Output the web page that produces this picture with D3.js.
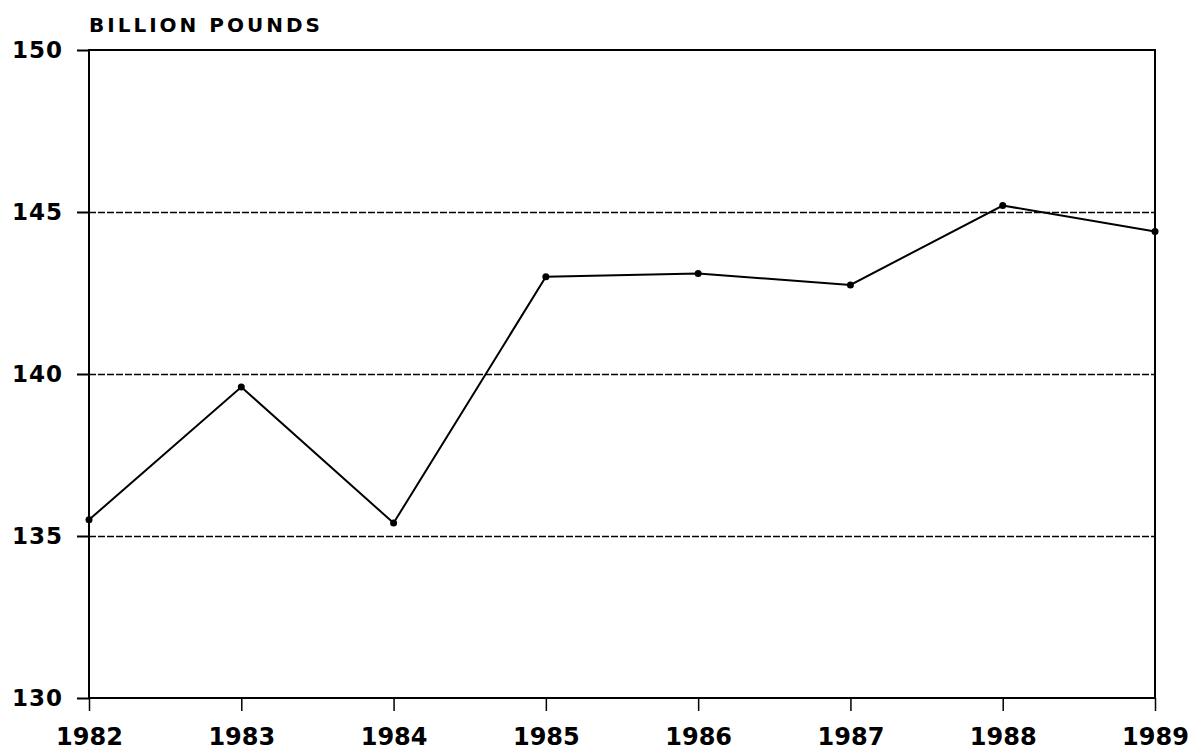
<!DOCTYPE html>
<html lang="en">
<head>
  <meta charset="UTF-8">
  <title>Billion Pounds 1982-1989</title>
  <script src="https://d3js.org/d3.v7.min.js"></script>
</head>
<body style="margin: 0; padding: 0; overflow: hidden; background: #fff;">
  <svg id="chart"></svg>

  <script>
    // data
    const years = [1982, 1983, 1984, 1985, 1986, 1987, 1988, 1989];
    const values = [135.5, 139.6, 135.4, 143.0, 143.1, 142.75, 145.2, 144.4];
    const yTicks = [130, 135, 140, 145, 150];
    const gridTicks = [135, 140, 145];
    const yTitle = "BILLION POUNDS";

    const width = 1193, height = 751;
    const plotL = 89, plotR = 1155, plotT = 50, plotB = 698;
    const font = "'DejaVu Sans', sans-serif";

    const svg = d3.select("#chart")
      .attr("width", width)
      .attr("height", height);

    const x = d3.scaleLinear().domain([1982, 1989]).range([plotL, plotR]);
    const y = d3.scaleLinear().domain([130, 150]).range([plotB, plotT]);

    // dashed gridlines
    svg.selectAll(".grid")
      .data(gridTicks)
      .enter()
      .append("line")
      .attr("class", "grid")
      .attr("x1", plotL)
      .attr("x2", plotR)
      .attr("y1", d => Math.round(y(d)) + 0.5)
      .attr("y2", d => Math.round(y(d)) + 0.5)
      .attr("stroke", "#000")
      .attr("stroke-width", 1.5)
      .attr("stroke-dasharray", "7,2");

    // frame
    svg.append("rect")
      .attr("x", plotL)
      .attr("y", plotT)
      .attr("width", plotR - plotL)
      .attr("height", plotB - plotT)
      .attr("fill", "none")
      .attr("stroke", "#000")
      .attr("stroke-width", 2);

    // left axis
    const yAxis = d3.axisLeft(y)
      .tickValues(yTicks)
      .tickSize(12)
      .tickPadding(14)
      .tickFormat(d3.format("d"));

    const gy = svg.append("g")
      .attr("transform", `translate(${plotL},0)`)
      .call(yAxis);
    gy.select(".domain").remove();
    gy.selectAll(".tick line").attr("stroke", "#000").attr("stroke-width", 2);
    gy.selectAll(".tick text")
      .attr("fill", "#000")
      .style("font-family", font)
      .style("font-weight", "bold")
      .style("font-size", "23px")
      .style("letter-spacing", "1px");

    // bottom axis
    const xAxis = d3.axisBottom(x)
      .tickValues(years)
      .tickSize(13)
      .tickPadding(17)
      .tickFormat(d3.format("d"));

    const gx = svg.append("g")
      .attr("transform", `translate(0,${plotB})`)
      .call(xAxis);
    gx.select(".domain").remove();
    gx.selectAll(".tick line").attr("stroke", "#000").attr("stroke-width", 1.5);
    gx.selectAll(".tick text")
      .attr("fill", "#000")
      .style("font-family", font)
      .style("font-weight", "bold")
      .style("font-size", "24px");

    // title
    svg.append("text")
      .attr("x", plotL)
      .attr("y", 32)
      .text(yTitle)
      .attr("fill", "#000")
      .style("font-family", font)
      .style("font-weight", "bold")
      .style("font-size", "20px")
      .style("letter-spacing", "3px");

    // series line
    const pts = years.map((yr, i) => ({ year: yr, value: values[i] }));
    const line = d3.line().x(d => x(d.year)).y(d => y(d.value));

    svg.append("path")
      .datum(pts)
      .attr("d", line)
      .attr("fill", "none")
      .attr("stroke", "#000")
      .attr("stroke-width", 2);

    svg.selectAll(".pt")
      .data(pts)
      .enter()
      .append("circle")
      .attr("class", "pt")
      .attr("cx", d => x(d.year))
      .attr("cy", d => y(d.value))
      .attr("r", 3.5)
      .attr("fill", "#000");
  </script>
</body>
</html>
